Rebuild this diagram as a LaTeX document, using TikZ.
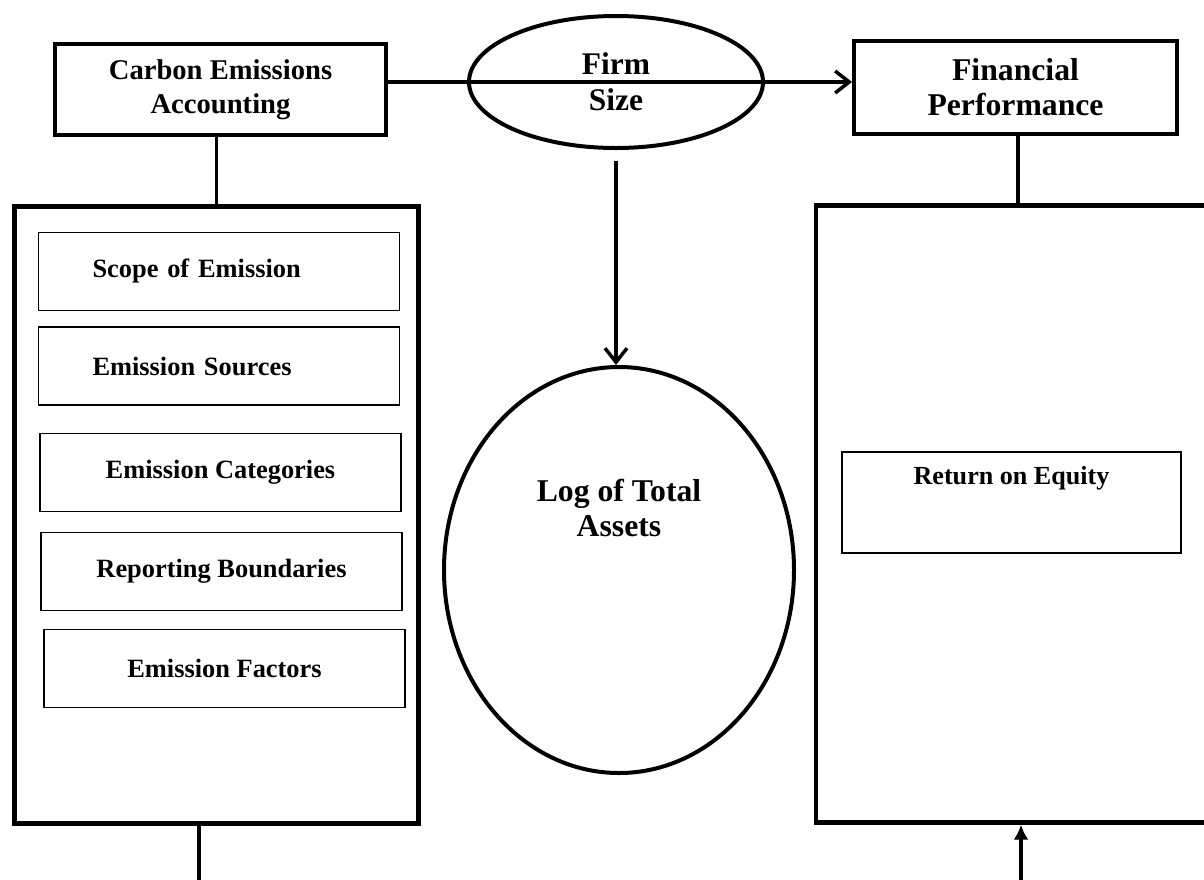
\documentclass[tikz,border=0pt]{standalone}
\usepackage{fontspec}
\setmainfont{Liberation Serif}
\usetikzlibrary{positioning, arrows.meta, calc, shapes.geometric}

\begin{document}
\begin{tikzpicture}[
  x=1pt, y=-1pt,
  headbox/.style={draw, line width=4pt, align=center},
  panel/.style={draw, line width=4.3pt, minimum width=404pt, minimum height=617pt},
  itembox/.style={draw, line width=1.3pt, minimum width=361pt, minimum height=78pt, font=\bfseries\fontsize{26.4}{32}\selectfont},
  oval/.style={draw, ellipse, line width=4pt, inner sep=0pt, align=center},
  link/.style={line width=3.5pt},
]
  \useasboundingbox (0,0) rectangle (1204,879);
  \clip (0,0) rectangle (1204,879);

  % Top row
  \node[headbox, minimum width=331pt, minimum height=91pt, font=\bfseries\fontsize{28.6}{34}\selectfont] (carbon) at (220.5, 89.5) {Carbon Emissions\\Accounting};
  \node[headbox, minimum width=323pt, minimum height=93pt, font=\bfseries\fontsize{31.7}{35}\selectfont] (finperf) at (1015.5, 87.5) {Financial\\Performance};
  \node[oval, minimum width=294pt, minimum height=132pt, font=\bfseries\fontsize{31.5}{36}\selectfont] (firmsize) at (616, 82) {Firm\\Size};

  \draw[link, -{Straight Barb[length=14pt, width=22pt]}] (carbon.east |- firmsize) -- (finperf.west |- firmsize);

  % Firm size measure
  \node[oval, minimum width=350pt, minimum height=406pt] (assets) at (619, 570) {};
  \node[font=\bfseries\fontsize{31.7}{35}\selectfont, align=center] (assetslbl) at ([yshift=62.5pt]assets.center) {Log of Total\\Assets};
  \coordinate[below=11pt of firmsize] (fsdown);
  \draw[link, -{Straight Barb[length=14pt, width=22pt]}] (fsdown) -- (fsdown |- assets.north);

  % Carbon emissions accounting panel
  \node[panel] (cpanel) at (216.5, 515) {};
  \draw[link] (carbon.south -| cpanel.north) -- (cpanel.north);
  \node[itembox, text width=253pt, align=left] (scope) at (219, 271.5) {Scope of Emission};
  \node[itembox, text width=253pt, align=left] (sources) at (219, 366) {Emission Sources};
  \node[itembox] (categ) at (220.5, 472.5) {Emission Categories};
  \node[itembox] (bound) at (221.5, 571.5) {Reporting Boundaries};
  \node[itembox] (factors) at (224.5, 668.5) {Emission Factors};

  % Financial performance panel
  \node[panel] (fpanel) at (1018, 514) {};
  \draw[link] (finperf.south -| fpanel.north) -- (fpanel.north);
  \node[itembox, minimum width=339pt, minimum height=101pt] (roe) at (1011.5, 502.5) {};
  \node[font=\bfseries\fontsize{26.1}{32}\selectfont] (roelbl) at ([yshift=24pt]roe.center) {Return on Equity};

  % Bottom links
  \coordinate (cout) at (199, 890);
  \coordinate (fin) at (1021, 890);
  \draw[line width=3.5pt] (cout |- cpanel.south) -- (cout);
  \draw[line width=3.8pt, -{Latex[length=15pt, width=15pt]}] (fin) -- (fin |- fpanel.south);
\end{tikzpicture}
\end{document}
